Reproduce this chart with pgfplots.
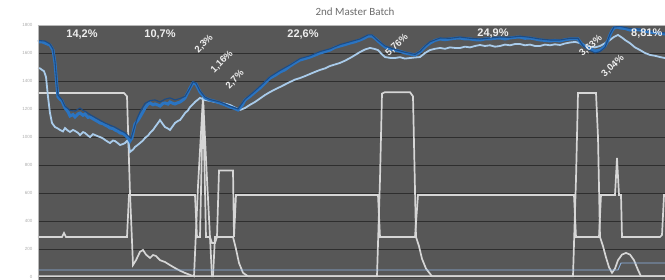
\documentclass[border=0pt]{standalone}
\usepackage{pgfplots}
\pgfplotsset{compat=1.18}
\usepackage{fontspec}
\setmainfont{Liberation Sans}
\newfontfamily\carlito{Carlito}
\definecolor{bg}{HTML}{575757}
\definecolor{gridc}{HTML}{2E2E2E}
\definecolor{mblue}{HTML}{2A74C2}
\definecolor{dblue}{HTML}{1C4C86}
\definecolor{lblue}{HTML}{A9CBEA}
\definecolor{gline}{HTML}{D6D6D6}
\definecolor{tblue}{HTML}{8EB4E3}
\definecolor{lab}{HTML}{EEEEEE}
\begin{document}
\begin{tikzpicture}
\useasboundingbox (-38pt,0pt) rectangle (627pt,280pt);
\begin{axis}[
  scale only axis, width=627pt, height=255pt,
  at={(0pt,0pt)}, anchor=south west,
  xmin=38, xmax=665, ymin=-21.4, ymax=1800,
  axis background/.style={fill=bg},
  axis line style={draw=none},
  xtick=\empty,
  ytick={0,200,...,1800},
  ymajorgrids, grid style={color=gridc, line width=0.7pt},
  major tick length=0pt,
  yticklabel style={font=\fontsize{4.5}{5}\selectfont, text=gray!65, xshift=-2pt},
  /pgf/number format/assume math mode=true,
  /pgf/number format/1000 sep={},
  clip=false,
]
% grey process curves
\addplot[gline, line width=1.7pt] coordinates {
(38,1314)(124,1314)(127,1290)(130,600)(133,86)(136,120)(140,180)(143,193)(146,160)(150,136)(153,157)(156,150)(160,120)(165,107)(170,85)(175,64)(180,45)(185,29)(190,15)(194,5)(198,650)(203,1286)(207,700)(212,5)(250,5)(377,5)(380,700)(382,1310)(385,1320)(410,1320)(413,1290)(416,286)(419,220)(422,130)(426,60)(432,5)(573,5)(576,700)(578,1314)(596,1314)(598,1000)(600,286)(603,220)(606,140)(609,70)(612,30)(615,60)(618,120)(622,160)(626,172)(630,160)(634,120)(638,50)(641,5)(665,5)};
\addplot[gline, line width=1.7pt] coordinates {
(38,286)(62,286)(64,314)(66,286)(127,286)(129,586)(195,586)(197,286)(200,286)(203,1280)(206,286)(210,286)(212,243)(215,243)(217,286)(219,760)(233,760)(234,286)(236,586)(378,586)(380,286)(415,286)(418,586)(574,586)(576,286)(599,286)(601,586)(615,586)(617,850)(619,586)(621,586)(622,286)(660,286)(662,300)(664,586)(665,586)};
\addplot[gline, line width=1.7pt] coordinates {
(38,5)(213,5)(215,286)(233,286)(236,200)(239,100)(243,30)(248,5)(665,5)};
\addplot[tblue, line width=0.9pt] coordinates {(38,50)(618,50)(621,100)(665,100)};
% light blue
\addplot[lblue, line width=1.8pt] coordinates {
(38,1493)(40,1490)(42,1479)(44,1470)(46,1429)(48,1286)(50,1171)(52,1100)(55,1071)(58,1060)(60,1050)(63,1040)(65,1064)(68,1045)(70,1036)(73,1050)(75,1043)(78,1030)(80,1014)(83,1035)(85,1029)(88,1010)(90,1000)(93,1020)(95,1014)(98,1005)(100,1000)(103,990)(105,979)(108,965)(110,957)(113,975)(115,971)(118,955)(120,943)(123,950)(125,957)(128,979)(130,893)(133,910)(135,929)(138,945)(140,957)(143,975)(145,993)(148,1010)(150,1029)(153,1050)(155,1071)(158,1100)(160,1121)(163,1090)(165,1071)(168,1060)(170,1050)(173,1080)(175,1100)(178,1115)(180,1121)(183,1150)(185,1171)(188,1190)(190,1214)(193,1235)(195,1250)(200,1279)(205,1264)(210,1258)(215,1250)(220,1245)(225,1238)(230,1229)(235,1210)(240,1193)(245,1207)(250,1230)(255,1250)(260,1275)(265,1300)(270,1321)(275,1340)(280,1357)(285,1375)(290,1393)(295,1410)(300,1421)(305,1435)(310,1450)(315,1465)(320,1479)(325,1490)(330,1507)(335,1518)(340,1529)(345,1545)(350,1564)(355,1585)(360,1607)(365,1625)(370,1636)(374,1630)(378,1621)(382,1590)(385,1571)(390,1565)(395,1564)(400,1570)(405,1560)(410,1564)(415,1568)(420,1571)(425,1600)(430,1621)(435,1630)(440,1636)(445,1630)(450,1640)(455,1636)(460,1636)(465,1645)(470,1640)(475,1650)(480,1657)(485,1650)(490,1655)(495,1645)(500,1650)(505,1660)(510,1655)(515,1664)(520,1664)(525,1655)(530,1660)(535,1650)(540,1650)(545,1660)(550,1655)(555,1662)(560,1657)(565,1668)(570,1675)(575,1679)(580,1671)(585,1655)(590,1643)(595,1640)(600,1650)(605,1670)(610,1693)(614,1715)(618,1729)(622,1710)(625,1693)(630,1670)(635,1640)(640,1621)(645,1600)(650,1586)(655,1580)(660,1571)(665,1564)};
% medium blue
\addplot[mblue, line width=3pt] coordinates {
(38,1679)(42,1680)(46,1668)(50,1657)(53,1621)(55,1529)(57,1357)(58,1286)(60,1270)(62,1257)(65,1207)(68,1180)(70,1150)(73,1160)(75,1143)(78,1165)(80,1171)(83,1155)(85,1164)(88,1140)(90,1143)(93,1130)(95,1121)(98,1110)(100,1100)(103,1095)(105,1086)(108,1075)(110,1064)(113,1060)(115,1050)(118,1040)(120,1029)(123,1025)(125,1014)(128,993)(130,971)(132,993)(135,1093)(138,1120)(140,1143)(143,1180)(145,1207)(148,1235)(150,1243)(153,1230)(155,1236)(158,1228)(160,1221)(163,1240)(165,1243)(168,1235)(170,1250)(173,1240)(175,1236)(178,1245)(180,1250)(183,1265)(185,1279)(188,1320)(190,1350)(193,1386)(196,1379)(200,1321)(205,1279)(210,1264)(215,1255)(220,1243)(225,1230)(230,1214)(234,1205)(238,1193)(242,1225)(245,1264)(250,1290)(255,1321)(260,1350)(265,1386)(270,1421)(275,1440)(280,1464)(285,1480)(290,1507)(295,1530)(300,1550)(305,1560)(310,1571)(315,1585)(320,1600)(325,1610)(330,1621)(335,1640)(340,1650)(345,1660)(350,1671)(355,1680)(360,1693)(364,1705)(368,1721)(372,1721)(375,1705)(378,1686)(382,1660)(385,1643)(390,1630)(395,1621)(400,1612)(405,1600)(410,1593)(415,1586)(420,1607)(425,1643)(430,1671)(435,1690)(440,1700)(445,1695)(450,1700)(455,1705)(460,1707)(465,1700)(470,1700)(475,1695)(480,1693)(485,1700)(490,1700)(495,1705)(500,1707)(505,1700)(510,1707)(515,1712)(520,1714)(525,1705)(530,1707)(535,1700)(540,1693)(545,1690)(550,1686)(555,1690)(560,1686)(565,1695)(570,1700)(575,1700)(578,1700)(581,1670)(583,1657)(586,1643)(590,1630)(595,1614)(600,1621)(603,1635)(605,1650)(608,1690)(610,1729)(612,1760)(614,1779)(617,1785)(620,1779)(625,1775)(630,1764)(635,1768)(640,1764)(645,1755)(650,1750)(655,1745)(660,1740)(665,1736)};
% dark blue
\addplot[dblue, line width=1.1pt] coordinates {
(38,1690)(45,1685)(50,1665)(53,1630)(55,1540)(57,1370)(58,1300)(62,1265)(65,1220)(70,1190)(75,1185)(80,1207)(83,1190)(86,1180)(90,1160)(95,1140)(100,1120)(105,1100)(110,1085)(115,1070)(120,1050)(125,1030)(128,1010)(131,990)(134,1060)(137,1130)(140,1180)(145,1240)(150,1260)(155,1265)(160,1250)(165,1270)(170,1279)(175,1265)(180,1275)(185,1290)(190,1350)(193,1395)(196,1385)(200,1330)(205,1285)(210,1268)(220,1250)(230,1220)(238,1200)(245,1270)(255,1330)(265,1395)(270,1430)(280,1475)(290,1515)(300,1560)(310,1580)(320,1610)(330,1630)(340,1660)(350,1680)(360,1700)(368,1729)(372,1729)(378,1690)(385,1650)(395,1625)(405,1605)(415,1590)(420,1612)(425,1650)(430,1680)(440,1707)(450,1705)(460,1714)(470,1705)(480,1700)(490,1707)(500,1714)(510,1712)(520,1720)(530,1712)(540,1700)(550,1693)(560,1693)(570,1705)(578,1705)(583,1650)(588,1625)(595,1600)(600,1610)(605,1640)(610,1735)(614,1786)(620,1790)(630,1775)(640,1770)(650,1757)(665,1743)};
% frame
\draw[gray!55, line width=0.8pt] (rel axis cs:0,0) -- (rel axis cs:0,1) -- (rel axis cs:1,1);
% labels
\begin{scope}[every node/.style={text=lab, font=\bfseries\fontsize{11}{12}\selectfont, inner sep=0pt}]
\node at (axis cs:82,1729) {14,2\%};
\node at (axis cs:160,1729) {10,7\%};
\node at (axis cs:303,1729) {22,6\%};
\node at (axis cs:493,1736) {24,9\%};
\node[anchor=west] at (axis cs:631,1736) {8,81\%};
\node[rotate=47, font=\bfseries\fontsize{9.5}{10}\selectfont] at (axis cs:204,1664) {2,3\%};
\node[rotate=45, font=\bfseries\fontsize{9.5}{10}\selectfont] at (axis cs:222,1536) {1,16\%};
\node[rotate=47, font=\bfseries\fontsize{9.5}{10}\selectfont] at (axis cs:235,1410) {2,7\%};
\node[rotate=43, font=\bfseries\fontsize{9.5}{10}\selectfont] at (axis cs:397,1657) {5,76\%};
\node[rotate=42, font=\bfseries\fontsize{9.5}{10}\selectfont] at (axis cs:591,1650) {3,63\%};
\node[rotate=43, font=\bfseries\fontsize{9.5}{10}\selectfont] at (axis cs:613,1507) {3,04\%};
\end{scope}
\end{axis}
\node[text=gray!85!black, font=\carlito\fontsize{11}{12}\selectfont] at (317pt,268pt) {2nd Master Batch};
\end{tikzpicture}
\end{document}
